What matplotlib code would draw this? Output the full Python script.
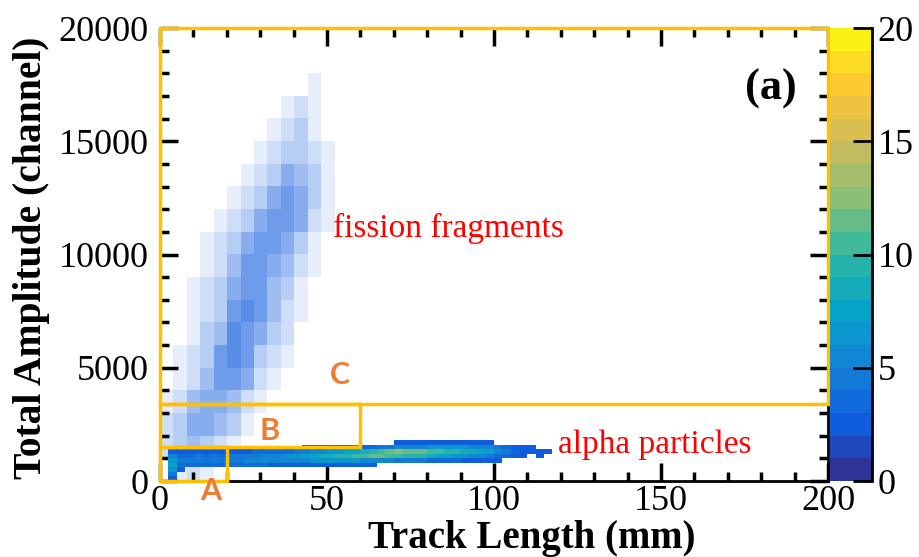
import numpy as np
import matplotlib
matplotlib.use("Agg")
import matplotlib.pyplot as plt
from matplotlib.colors import LinearSegmentedColormap, ListedColormap, BoundaryNorm
from matplotlib.patches import Rectangle
from matplotlib.ticker import MultipleLocator

plt.rcParams['font.family'] = ['Liberation Serif', 'DejaVu Serif']

# ---- data ----
x_ticks = [0, 50, 100, 150, 200]
y_ticks = [0, 5000, 10000, 15000, 20000]
z_ticks = [0, 5, 10, 15, 20]

# alpha band: counts per cell (2.5 mm x 200 channel), 0-120 mm, 0-2000 ch, top row first
# chars are base-21 digits (a=10, b=11, c=12)
alpha_x_edges = np.arange(0, 120.1, 2.5)
alpha_y_edges = np.arange(0, 2001, 200)
alpha_rows = [
    "00000000" "00000000" "00000000" "00000000" "00000000" "00000000",  # 1800-2000
    "00000000" "00000000" "00000000" "00002222" "22222222" "00000000",  # 1600-1800
    "00000000" "00000000" "02222223" "33445555" "66666555" "43222000",  # 1400-1600
    "02222222" "22233333" "44556677" "89abcbbb" "aa998877" "54322220",  # 1200-1400
    "05334343" "44445556" "6778899a" "abbaa999" "87766554" "33220200",  # 1000-1200
    "06444444" "44555555" "55666666" "55554444" "33332222" "20000000",  # 800-1000
    "07333333" "33333222" "22222222" "22000000" "00000000" "00000000",  # 600-800
    "06200000" "00000000" "00000000" "00000000" "00000000" "00000000",  # 400-600
    "04000000" "00000000" "00000000" "00000000" "00000000" "00000000",  # 200-400
    "02000000" "00000000" "00000000" "00000000" "00000000" "00000000",  # 0-200
]

# fission fragments: share of occupied bins in tenths (4 mm x 1000 ch), 0-56 mm, 0-18000 ch, top row first
fission_extent = (0, 56, 0, 18000)
fission_rows = [
    "00000000000100",  # 17000-18000
    "00000000012100",
    "00000000123100",
    "00000001233210",
    "00000012354310",
    "00000123565310",
    "00001235665210",
    "00012356653100",
    "00012466542100",
    "00123566431000",
    "00123676421000",
    "00134765320000",
    "01236763210000",
    "01246652100000",
    "12455421000000",
    "23554310000000",
    "23432100000000",
    "01210000000000",  # 0-1000
]
fission_count = 2

# selection boxes (mm, channel)
box_names = ['A', 'B', 'C']
box_x = [(0, 20), (0, 60), (0, 200)]
box_y = [(0, 1500), (1500, 3400), (3400, 20000)]

# ---- ROOT kBird palette, 20 levels ----
bird = [(0.2082, 0.1664, 0.5293), (0.0592, 0.3599, 0.8684), (0.0780, 0.5041, 0.8385),
        (0.0232, 0.6419, 0.7914), (0.1802, 0.7178, 0.6425), (0.5301, 0.7492, 0.4662),
        (0.8186, 0.7328, 0.3499), (0.9956, 0.7862, 0.1968), (0.9764, 0.9832, 0.0539)]
smooth = LinearSegmentedColormap.from_list('kbird', bird)
cmap = ListedColormap(smooth((np.arange(20) + 0.5) / 20))
norm = BoundaryNorm(np.arange(0, 21), cmap.N)

fig = plt.figure(figsize=(9.19, 5.57), dpi=100)
ax = fig.add_axes([0.1741, 0.1364, 0.7269, 0.8133])

# fission fragments layer
occ = np.array([[int(c) for c in r] for r in fission_rows]) / 10.0
rgba = np.zeros(occ.shape + (4,))
rgba[..., :3] = cmap(norm(fission_count))[:3]
rgba[..., 3] = occ
ax.imshow(rgba, extent=fission_extent, origin='upper', aspect='auto',
          interpolation='nearest', zorder=1)

# alpha band layer
counts = np.array([[int(c, 21) for c in r] for r in alpha_rows])[::-1]
mesh = ax.pcolormesh(alpha_x_edges, alpha_y_edges, np.ma.masked_equal(counts, 0),
                     cmap=cmap, norm=norm, zorder=2)

ax.set_xlim(0, 200)
ax.set_ylim(0, 20000)
ax.set_xticks(x_ticks)
ax.set_yticks(y_ticks)
ax.xaxis.set_minor_locator(MultipleLocator(10))
ax.yaxis.set_minor_locator(MultipleLocator(1000))
ax.tick_params(which='both', direction='in', top=True, right=True, width=2.5, labelsize=26)
ax.tick_params(which='major', length=13)
ax.tick_params(which='minor', length=6.5)
ax.tick_params(axis='x', pad=3)
ax.tick_params(axis='y', pad=8)
for s in ax.spines.values():
    s.set_linewidth(2)

for name, (x0, x1), (y0, y1) in zip(box_names, box_x, box_y):
    ax.add_patch(Rectangle((x0, y0), x1 - x0, y1 - y0, fill=False, edgecolor='#FFC000',
                           lw=2.5, clip_on=False, zorder=6))

lab = dict(color='#ED7D31', fontsize=22, fontweight='bold', family='Lato',
           ha='center', va='center', clip_on=False, zorder=7)
ax.text(15.3, -420, 'A', **lab)
ax.text(32.9, 2205, 'B', **lab)
ax.text(53.9, 4675, 'C', **lab)

ax.text(51.8, 10760, 'fission fragments', color='red', fontsize=24, va='baseline')
ax.text(119.2, 1235, 'alpha particles', color='red', fontsize=24, va='baseline')
ax.text(183, 17330, '(a)', fontsize=32, fontweight='bold', ha='center', va='center')

# colour scale
cax = fig.add_axes([0.903, 0.1364, 0.0457, 0.8133])
cb = fig.colorbar(mesh, cax=cax, ticks=z_ticks)
cb.minorticks_off()
cb.outline.set_visible(False)
cax.spines['right'].set_visible(True)
cax.spines['right'].set_linewidth(2)
cax.tick_params(direction='in', length=14, width=2, labelsize=26, pad=4)

fig.text(0.579, 0.017, 'Track Length (mm)', ha='center', va='baseline',
         fontsize=28, fontweight='bold')
fig.text(50 / 919, 0.537, 'Total Amplitude (channel)', rotation=90, ha='right',
         va='center', fontsize=28.5, fontweight='bold')

fig.savefig('out.png', dpi=100)
